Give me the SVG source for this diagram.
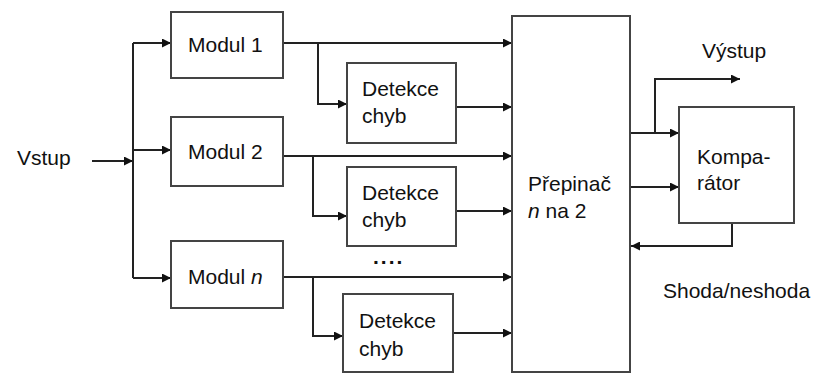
<svg xmlns="http://www.w3.org/2000/svg" width="818" height="374" viewBox="0 0 818 374">
<defs>
<marker id="ah" viewBox="0 0 10 10" refX="10" refY="5" markerWidth="11" markerHeight="9" markerUnits="userSpaceOnUse" orient="auto">
<path d="M0,0 L10,5 L0,10 z" fill="#111"/>
</marker>
<style>
.box{fill:#fff;stroke:#444;stroke-width:2}
.t{font-family:"Liberation Sans",Arial,sans-serif;font-size:21px;fill:#111}
.ln{fill:none;stroke:#222;stroke-width:2}
.ar{fill:none;stroke:#222;stroke-width:2;marker-end:url(#ah)}
</style>
</defs>
<rect width="818" height="374" fill="#fff"/>
<g id="connectors">
<path class="ar" d="M92,161 H133"/>
<path class="ln" d="M133,43 V278"/>
<path class="ar" d="M133,43 H171"/>
<path class="ar" d="M133,150 H171"/>
<path class="ar" d="M133,278 H171"/>
<path class="ar" d="M283,43 H512"/>
<path class="ar" d="M318,43 V104 H347"/>
<path class="ar" d="M456,107 H512"/>
<path class="ar" d="M283,156 H512"/>
<path class="ar" d="M313,156 V216 H347"/>
<path class="ar" d="M456,211 H512"/>
<path class="ar" d="M283,277 H512"/>
<path class="ar" d="M313,277 V336 H343"/>
<path class="ar" d="M453,333 H512"/>
<path class="ar" d="M630,133 H679"/>
<path class="ar" d="M655,133 V79 H740"/>
<path class="ar" d="M630,187 H679"/>
<path class="ar" d="M732,223 V246 H631"/>
</g>
<g id="vstup"><text class="t" x="17" y="165">Vstup</text></g>
<g id="modul1"><rect class="box" x="171" y="12" width="112" height="66"/><text class="t" x="188" y="52">Modul 1</text></g>
<g id="modul2"><rect class="box" x="171" y="117" width="112" height="69"/><text class="t" x="188" y="159">Modul 2</text></g>
<g id="moduln"><rect class="box" x="171" y="241" width="112" height="67"/><text class="t" x="188" y="284">Modul <tspan font-style="italic">n</tspan></text></g>
<g id="detekce1"><rect class="box" x="347" y="63" width="109" height="80"/><text class="t" x="362" y="96">Detekce</text><text class="t" x="362" y="123">chyb</text></g>
<g id="detekce2"><rect class="box" x="347" y="167" width="109" height="79"/><text class="t" x="362" y="200">Detekce</text><text class="t" x="362" y="227">chyb</text></g>
<g id="dots"><text class="t" x="373" y="264" font-weight="bold" letter-spacing="2">....</text></g>
<g id="detekcen"><rect class="box" x="343" y="294" width="110" height="78"/><text class="t" x="359" y="328">Detekce</text><text class="t" x="359" y="356">chyb</text></g>
<g id="prepinac"><rect class="box" x="512" y="16" width="118" height="356"/><text class="t" x="528" y="191">Přepinač</text><text class="t" x="528" y="218"><tspan font-style="italic">n</tspan> na 2</text></g>
<g id="komparator"><rect class="box" x="679" y="107" width="115" height="116"/><text class="t" x="697" y="164">Kompa-</text><text class="t" x="697" y="190">rátor</text></g>
<g id="vystup"><text class="t" x="702" y="58">Výstup</text></g>
<g id="shoda"><text class="t" x="663" y="298">Shoda/neshoda</text></g>
</svg>
